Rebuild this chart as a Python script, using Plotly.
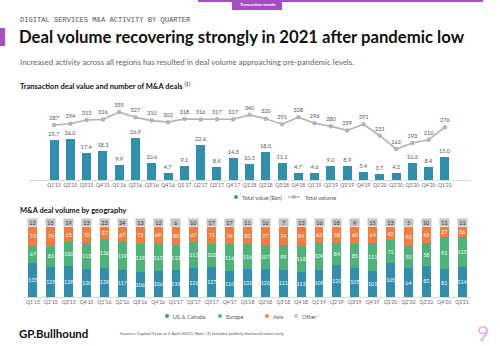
import plotly.graph_objects as go

# ---- data -------------------------------------------------------------
quarters = ["Q1'15", "Q2'15", "Q3'15", "Q4'15", "Q1'16", "Q2'16", "Q3'16", "Q4'16",
            "Q1'17", "Q2'17", "Q3'17", "Q4'17", "Q1'18", "Q2'18", "Q3'18", "Q4'18",
            "Q1'19", "Q2'19", "Q3'19", "Q4'19", "Q1'20", "Q2'20", "Q3'20", "Q4'20", "Q1'21"]

deal_value = [25.7, 26.0, 17.4, 18.3, 9.9, 26.9, 10.6, 4.7, 9.1, 22.6, 8.4, 14.3, 10.5,
              18.0, 11.1, 4.7, 4.6, 9.0, 8.9, 5.4, 3.7, 4.2, 10.6, 8.4, 15.0]
deal_volume = [287, 294, 313, 316, 355, 327, 310, 302, 318, 316, 317, 317, 340,
               320, 291, 328, 296, 280, 259, 291, 231, 162, 193, 210, 276]

us_canada = [135, 121, 129, 120, 139, 117, 106, 106, 119, 126, 127, 110, 131,
             120, 111, 113, 109, 120, 105, 101, 105, 64, 82, 81, 114]
europe = [67, 83, 100, 113, 136, 119, 119, 115, 113, 113, 102, 116, 116,
          107, 99, 118, 109, 84, 85, 111, 71, 50, 58, 91, 115]
asia = [73, 75, 65, 70, 57, 67, 72, 69, 80, 67, 71, 74, 82,
        77, 74, 84, 62, 58, 60, 64, 42, 43, 43, 27, 36]
other = [12, 15, 19, 13, 23, 24, 13, 12, 6, 10, 17, 17, 11,
         16, 7, 13, 16, 18, 9, 15, 13, 5, 10, 11, 11]

# ---- style ------------------------------------------------------------
W, H = 500, 346
FONT = "Lato"
TEAL = "#2f8fad"
GREEN = "#4db379"
ORANGE = "#f37c40"
GREY = "#c4c4c4"
LINE_GREY = "#b4b4b4"
PURPLE = "#a64dc4"


def ypap(pix):
    return 1 - pix / H


def xpap(pix):
    return pix / W


fig = go.Figure()

# ---- top chart: deal value bars + deal volume line ---------------------
fig.add_trace(go.Bar(
    x=quarters, y=deal_value, name="Total value ($bn)",
    marker=dict(color=TEAL, line=dict(width=0)), width=0.55,
    text=[f"{v:.1f}" for v in deal_value], textposition="outside",
    textangle=0, constraintext="none",
    textfont=dict(size=5.6, color="#555555", family=FONT),
    cliponaxis=False, xaxis="x", yaxis="y",
))
fig.add_trace(go.Scatter(
    x=quarters, y=deal_volume, name="Total volume", mode="lines+markers+text",
    line=dict(color=LINE_GREY, width=1.6),
    marker=dict(color=LINE_GREY, size=4.5),
    text=[str(v) for v in deal_volume], textposition="top center",
    textfont=dict(size=5.6, color="#555555", family=FONT),
    cliponaxis=False, xaxis="x", yaxis="y2",
))

# ---- bottom chart: share of deals by region ---------------------------
regional = [u + e + a for u, e, a in zip(us_canada, europe, asia)]
for name, vals, col in [("US & Canada", us_canada, TEAL),
                        ("Europe", europe, GREEN),
                        ("Asia", asia, ORANGE)]:
    fig.add_trace(go.Bar(
        x=quarters, y=[v / t * 100 for v, t in zip(vals, regional)], name=name,
        marker=dict(color=col, line=dict(width=0)), width=0.5,
        text=[str(v) for v in vals], textposition="inside", textangle=0,
        insidetextanchor="middle", constraintext="none",
        textfont=dict(size=5.3, color="white", family=FONT),
        hovertemplate="%{x}: %{text}<extra>" + name + "</extra>",
        xaxis="x3", yaxis="y3",
    ))

annotations = []
# "Other" counts shown as grey tags above each column
for q, o in zip(quarters, other):
    annotations.append(dict(
        x=q, y=100, xref="x3", yref="y3", xanchor="center", yanchor="bottom",
        text=str(o), showarrow=False, bgcolor=GREY, width=9, height=7,
        borderpad=0, font=dict(size=5.5, color="#333333", family=FONT),
    ))


def text(x, y, s, size, color="#000000", family=FONT, xanchor="left", **kw):
    annotations.append(dict(
        x=xpap(x), y=ypap(y), xref="paper", yref="paper", xanchor=xanchor,
        yanchor="middle", text=s, showarrow=False,
        font=dict(size=size, color=color, family=family), **kw))


text(18, 20, "DIGITAL SERVICES M&amp;A ACTIVITY BY QUARTER", 7.1, "#555555",
     family="Liberation Mono")
text(17, 37, "<b>Deal volume recovering strongly in 2021 after pandemic low</b>", 16.7,
     "#111111")
text(18, 62, "Increased activity across all regions has resulted in deal volume "
     "approaching pre-pandemic levels.", 7.9, "#666666")
text(18, 86, "<b>Transaction deal value and number of M&amp;A deals</b> "
     "<sup>(1)</sup>", 7.5, "#111111")
text(18, 210, "<b>M&amp;A deal volume by geography</b>", 7.5, "#111111")
text(17, 333, "<b>GP.Bullhound</b>", 11.5, "#111111")
text(118, 333, "Sources: Capital IQ (as at 5 April 2021); Note: (1) Includes publicly "
     "disclosed values only", 4.3, "#555555")
text(483, 332, "9", 21, "#dbb5e8", xanchor="center")
text(257, 4.5, "<b>Transaction trends</b>", 4.3, "#ffffff", xanchor="center")

shapes = [
    dict(type="rect", xref="paper", yref="paper", x0=xpap(198), x1=xpap(483),
         y0=ypap(2), y1=ypap(0), fillcolor=PURPLE, line=dict(width=0)),
    dict(type="rect", xref="paper", yref="paper", x0=xpap(232), x1=xpap(282),
         y0=ypap(10), y1=ypap(0), fillcolor=PURPLE, line=dict(width=0)),
    dict(type="rect", xref="paper", yref="paper", x0=0, x1=xpap(5),
         y0=ypap(46), y1=ypap(28), fillcolor=PURPLE, line=dict(width=0)),
]


# ---- legends ----------------------------------------------------------
def legend_square(x, y, label, color):
    shapes.append(dict(type="rect", xref="paper", yref="paper",
                       x0=xpap(x - 1.7), x1=xpap(x + 1.7),
                       y0=ypap(y + 1.7), y1=ypap(y - 1.7),
                       fillcolor=color, line=dict(width=0)))
    text(x + 3.5, y, label, 5.6, "#555555")


legend_square(236, 197, "Total value ($bn)", TEAL)
shapes.append(dict(type="line", xref="paper", yref="paper",
                   x0=xpap(288), x1=xpap(300), y0=ypap(197), y1=ypap(197),
                   line=dict(color=LINE_GREY, width=1.4)))
shapes.append(dict(type="circle", xref="paper", yref="paper",
                   x0=xpap(292), x1=xpap(296), y0=ypap(199), y1=ypap(195),
                   fillcolor=LINE_GREY, line=dict(width=0)))
text(303, 197, "Total volume", 5.6, "#555555")

legend_square(167, 316, "US &amp; Canada", TEAL)
legend_square(220, 316, "Europe", GREEN)
legend_square(267, 316, "Asia", ORANGE)
legend_square(296, 316, "Other", GREY)

tickfont = dict(size=5, color="#666666", family=FONT)
fig.update_layout(
    width=W, height=H, margin=dict(l=0, r=0, t=0, b=0),
    paper_bgcolor="white", plot_bgcolor="white",
    font=dict(family=FONT), barmode="stack", bargap=0.45,
    showlegend=False,
    xaxis=dict(domain=[xpap(29), xpap(470)], type="category", tickfont=tickfont,
               showgrid=False, showline=True, linecolor="#d9d9d9", linewidth=1,
               ticks="", ticklen=0, anchor="y"),
    yaxis=dict(domain=[ypap(180), ypap(100)], range=[0, 51.2], visible=False,
               showgrid=False, anchor="x"),
    yaxis2=dict(domain=[ypap(180), ypap(100)], range=[0, 417.6], visible=False,
                overlaying="y", anchor="x"),
    xaxis3=dict(domain=[xpap(24), xpap(471)], type="category", tickfont=tickfont,
                showgrid=False, showline=True, linecolor="#d9d9d9", linewidth=1,
                ticks="", anchor="y3"),
    yaxis3=dict(domain=[ypap(297), ypap(227)], range=[0, 100], visible=False,
                anchor="x3"),
    annotations=annotations, shapes=shapes,
)

fig.write_html("out.html")
